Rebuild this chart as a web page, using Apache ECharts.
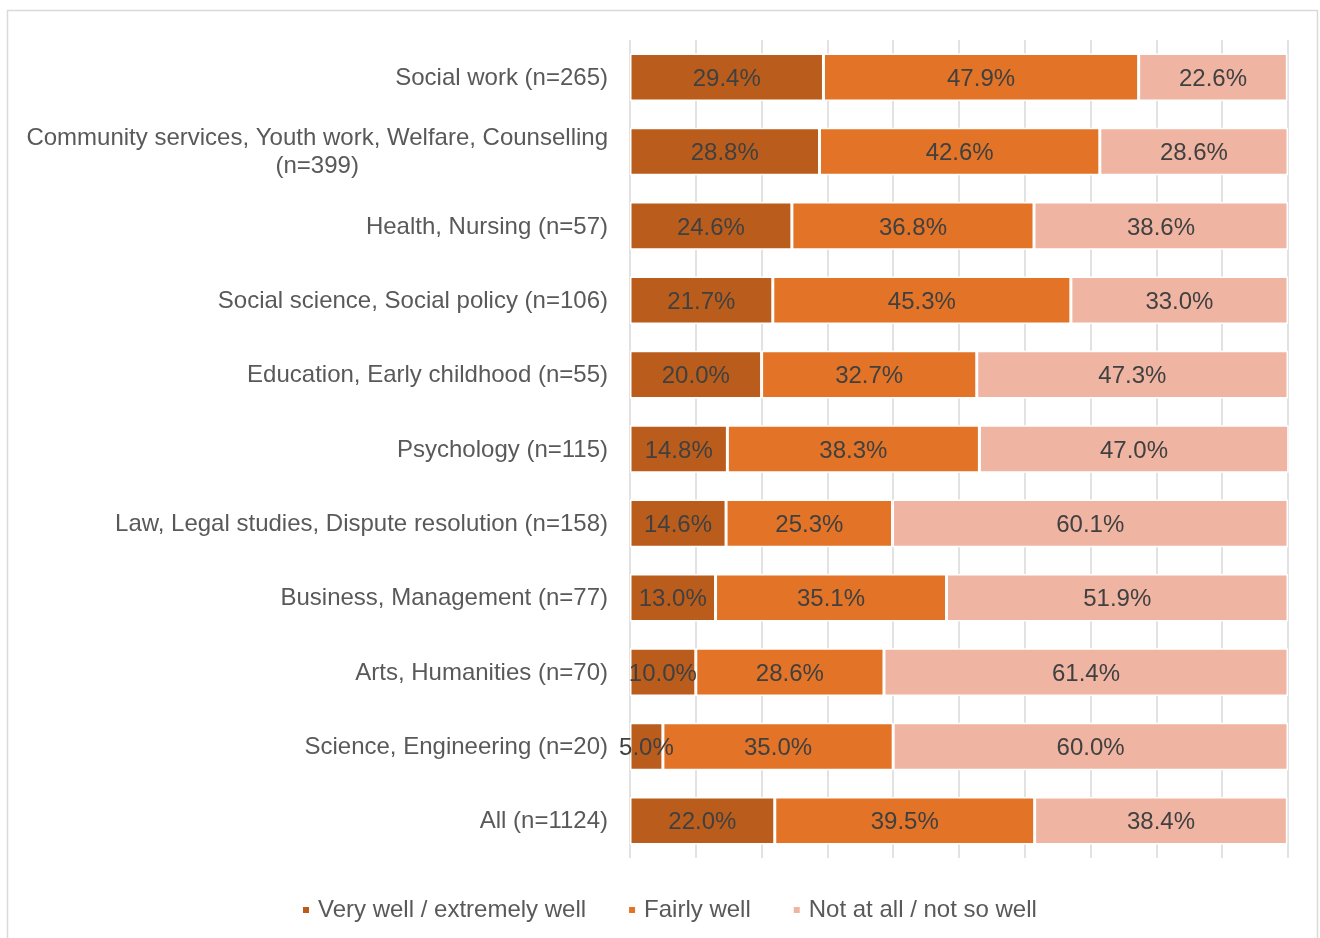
<!DOCTYPE html>
<html>
<head>
<meta charset="utf-8">
<script src="https://cdn.jsdelivr.net/npm/echarts@6/dist/echarts.min.js"></script>
<style>
html,body{margin:0;padding:0;background:#fff;}
#chart{width:1320px;height:938px;}
</style>
</head>
<body>
<div id="chart"></div>
<script>
const categories = [
  'Social work (n=265)',
  'Community services, Youth work, Welfare, Counselling\n(n=399)',
  'Health, Nursing (n=57)',
  'Social science, Social policy (n=106)',
  'Education, Early childhood (n=55)',
  'Psychology (n=115)',
  'Law, Legal studies, Dispute resolution (n=158)',
  'Business, Management (n=77)',
  'Arts, Humanities (n=70)',
  'Science, Engineering (n=20)',
  'All (n=1124)'
];
const seriesNames = ['Very well / extremely well', 'Fairly well', 'Not at all / not so well'];
const veryWell = [29.4, 28.8, 24.6, 21.7, 20.0, 14.8, 14.6, 13.0, 10.0, 5.0, 22.0];
const fairlyWell = [47.9, 42.6, 36.8, 45.3, 32.7, 38.3, 25.3, 35.1, 28.6, 35.0, 39.5];
const notWell = [22.6, 28.6, 38.6, 33.0, 47.3, 47.0, 60.1, 51.9, 61.4, 60.0, 38.4];
const colors = ['#BA5D1C', '#E27327', '#EFB4A2'];

const FONT = '"Liberation Sans", Arial, sans-serif';
const chart = echarts.init(document.getElementById('chart'), null, {renderer: 'canvas'});

function mkSeries(name, data, color) {
  return {
    name: name,
    type: 'bar',
    stack: 'total',
    data: data,
    barCategoryGap: '36%',
    itemStyle: {color: color, borderColor: '#ffffff', borderWidth: 1.5},
    label: {
      show: true,
      position: 'inside',
      offset: [0, 2],
      formatter: p => p.value.toFixed(1) + '%',
      color: '#404040',
      fontFamily: FONT,
      fontSize: 24
    },
    emphasis: {disabled: true}
  };
}

chart.setOption({
  animation: false,
  textStyle: {fontFamily: FONT},
  graphic: [{
    type: 'rect',
    shape: {x: 7.5, y: 10.5, width: 1310, height: 960},
    style: {fill: 'none', stroke: '#D9D9D9', lineWidth: 1.5},
    silent: true,
    z: -10
  }],
  grid: {left: 630, right: 32, top: 40, bottom: 80, containLabel: false},
  legend: {
    data: seriesNames,
    left: 296,
    top: 893,
    icon: 'rect',
    itemWidth: 8,
    itemHeight: 8,
    itemGap: 41,
    textStyle: {color: '#595959', fontSize: 24, fontFamily: FONT, padding: [0, 0, 0, 3]}
  },
  xAxis: {
    type: 'value',
    min: 0,
    max: 100,
    interval: 10,
    axisLabel: {show: false},
    axisLine: {show: false},
    axisTick: {show: false},
    splitLine: {show: true, lineStyle: {color: '#D9D9D9', width: 1.5}}
  },
  yAxis: {
    type: 'category',
    inverse: true,
    data: categories,
    axisLine: {show: false},
    axisTick: {show: false},
    axisLabel: {
      color: '#595959',
      fontSize: 24,
      fontFamily: FONT,
      margin: 22,
      lineHeight: 28,
      padding: [2, 0, 0, 0],
      formatter: v => {
        const parts = v.split('\n');
        if (parts.length > 1) return parts[0] + '\n{c|' + parts[1] + '}';
        return v;
      },
      rich: {c: {align: 'center', color: '#595959', fontSize: 24, fontFamily: FONT, lineHeight: 28}}
    }
  },
  series: [
    mkSeries(seriesNames[0], veryWell, colors[0]),
    mkSeries(seriesNames[1], fairlyWell, colors[1]),
    mkSeries(seriesNames[2], notWell, colors[2])
  ]
});
</script>
</body>
</html>
